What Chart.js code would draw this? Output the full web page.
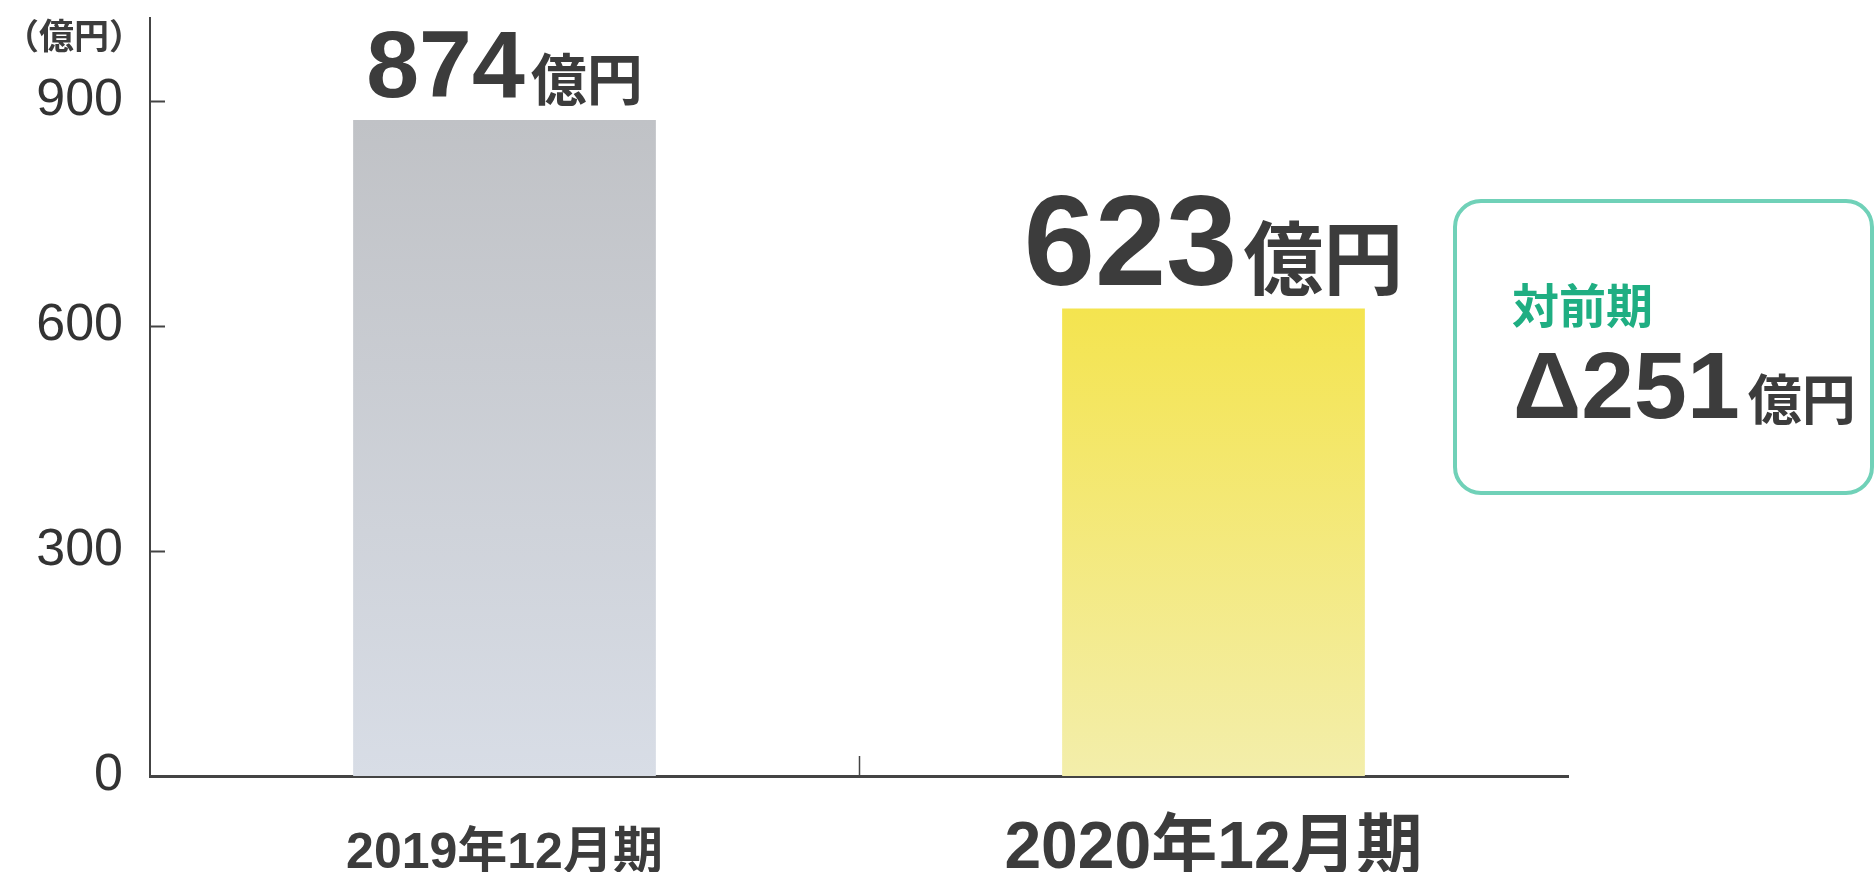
<!DOCTYPE html>
<html lang="ja">
<head>
<meta charset="utf-8">
<title>売上高</title>
<script src="https://cdn.jsdelivr.net/npm/chart.js@4/dist/chart.umd.min.js"></script>
<style>
  html, body { margin: 0; padding: 0; background: #fff; }
  #grafico { display: block; }
</style>
</head>
<body>
<canvas id="grafico" width="1875" height="872"></canvas>
<script>
// =========================================================
// 1. DATOS
// =========================================================
const categorias = ['2019年12月期', '2020年12月期'];
const valores = [874, 623];
const ticksY = [0, 300, 600, 900];
const maxY = 1010;
const unidad = '億円';
const unidadEje = '（億円）';
const textoComparacion = '対前期';

// =========================================================
// 2. ESTILOS
// =========================================================
const FUENTE = '"Liberation Sans", "Noto Sans CJK JP", sans-serif';
const FUENTE_JP = '"Noto Sans CJK JP", sans-serif';
const GRIS_TEXTO = '#3c3c3c';
const GRIS_EJE = '#444444';
const VERDE = '#1fae82';
const VERDE_BORDE = '#70d1b8';

// tamaños por barra: etiqueta X y [numero, unidad]
const tamLabelsX = [50, 66];
const tamValores = [[95, 56], [128, 80]];
const degradados = [
    ['#c0c2c6', '#d8dde6'],
    ['#f4e44f', '#f3eeab']
];

// color de barra con degradado vertical desde la cima de la barra
function colorBarra(ctx) {
    const chart = ctx.chart;
    const area = chart.chartArea;
    if (!area) return degradados[ctx.dataIndex][0];
    const yTop = chart.scales.y.getPixelForValue(valores[ctx.dataIndex]);
    const g = chart.ctx.createLinearGradient(0, yTop, 0, area.bottom);
    g.addColorStop(0, degradados[ctx.dataIndex][0]);
    g.addColorStop(1, degradados[ctx.dataIndex][1]);
    return g;
}

// =========================================================
// 3. PLUGIN: etiquetas, marcas internas y recuadro
// =========================================================
const anotaciones = {
    id: 'anotaciones',
    afterDraw(chart) {
        const c = chart.ctx;
        const area = chart.chartArea;
        const sy = chart.scales.y;
        const sx = chart.scales.x;

        c.save();

        // unidad del eje
        c.fillStyle = GRIS_TEXTO;
        c.font = 'bold 35px ' + FUENTE_JP;
        c.textAlign = 'left';
        c.textBaseline = 'alphabetic';
        c.fillText(unidadEje, 4, 49);

        // marcas del eje Y hacia dentro
        c.strokeStyle = GRIS_EJE;
        c.lineWidth = 2;
        ticksY.forEach(v => {
            if (v === 0) return;
            const y = Math.round(sy.getPixelForValue(v)) + 0.5;
            c.beginPath();
            c.moveTo(area.left, y);
            c.lineTo(area.left + 15, y);
            c.stroke();
        });

        // marca entre categorías
        const xMid = Math.round((sx.getPixelForValue(0) + sx.getPixelForValue(1)) / 2) + 0.5;
        c.lineWidth = 1.5;
        c.beginPath();
        c.moveTo(xMid, area.bottom);
        c.lineTo(xMid, area.bottom - 20);
        c.stroke();

        // etiquetas de categoría (alineadas por la línea base)
        c.fillStyle = GRIS_TEXTO;
        c.textAlign = 'center';
        categorias.forEach((cat, i) => {
            c.font = 'bold ' + tamLabelsX[i] + 'px ' + FUENTE;
            c.fillText(cat, sx.getPixelForValue(i), 868);
        });

        // valores encima de cada barra
        c.textAlign = 'left';
        const meta = chart.getDatasetMeta(0);
        meta.data.forEach((bar, i) => {
            const num = String(valores[i]);
            const [tn, tu] = tamValores[i];
            const gap = 6;
            c.font = 'bold ' + tn + 'px ' + FUENTE;
            const wn = c.measureText(num).width;
            c.font = 'bold ' + tu + 'px ' + FUENTE_JP;
            const wu = c.measureText(unidad).width;
            const x0 = bar.x - (wn + gap + wu) / 2;
            const base = bar.y - 23;
            c.font = 'bold ' + tn + 'px ' + FUENTE;
            c.fillText(num, x0, base);
            c.font = 'bold ' + tu + 'px ' + FUENTE_JP;
            c.fillText(unidad, x0 + wn + gap, base + 3);
        });

        // recuadro de comparación
        const bx = 1455, by = 201, bw = 417, bh = 292;
        c.strokeStyle = VERDE_BORDE;
        c.lineWidth = 4;
        c.beginPath();
        c.roundRect(bx, by, bw, bh, 26);
        c.stroke();

        c.fillStyle = VERDE;
        c.font = 'bold 47px ' + FUENTE_JP;
        c.fillText(textoComparacion, 1512, 323);

        const diff = 'Δ' + (valores[0] - valores[1]);
        c.fillStyle = GRIS_TEXTO;
        c.font = 'bold 95px ' + FUENTE;
        c.fillText(diff, 1513, 418);
        const wd = c.measureText(diff).width;
        c.font = 'bold 54px ' + FUENTE_JP;
        c.fillText(unidad, 1513 + wd + 8, 420);

        c.restore();
    }
};

// =========================================================
// 4. GRÁFICO
// =========================================================
new Chart(document.getElementById('grafico'), {
    type: 'bar',
    data: {
        labels: categorias,
        datasets: [{
            data: valores,
            backgroundColor: colorBarra,
            borderWidth: 0,
            barPercentage: 0.427,
            categoryPercentage: 1
        }]
    },
    options: {
        responsive: false,
        devicePixelRatio: 1,
        animation: false,
        layout: { padding: { top: 18, right: 307, left: 0, bottom: 0 } },
        plugins: {
            legend: { display: false },
            tooltip: { enabled: false }
        },
        scales: {
            x: {
                grid: { display: false, drawTicks: false },
                border: { display: true, color: GRIS_EJE, width: 3 },
                ticks: { display: false },
                afterFit: (scale) => {
                    scale.height = 96;
                    scale.paddingLeft = 0;
                    scale.paddingRight = 0;
                }
            },
            y: {
                min: 0,
                max: maxY,
                grid: { display: false, drawTicks: false },
                border: { display: true, color: GRIS_EJE, width: 2 },
                afterBuildTicks: (scale) => { scale.ticks = ticksY.map(v => ({ value: v })); },
                ticks: {
                    color: '#333',
                    padding: 27,
                    font: { family: FUENTE, size: 52 }
                },
                afterFit: (scale) => {
                    scale.width = 150;
                    scale.paddingTop = 0;
                    scale.paddingBottom = 0;
                }
            }
        }
    },
    plugins: [anotaciones]
});
</script>
</body>
</html>
